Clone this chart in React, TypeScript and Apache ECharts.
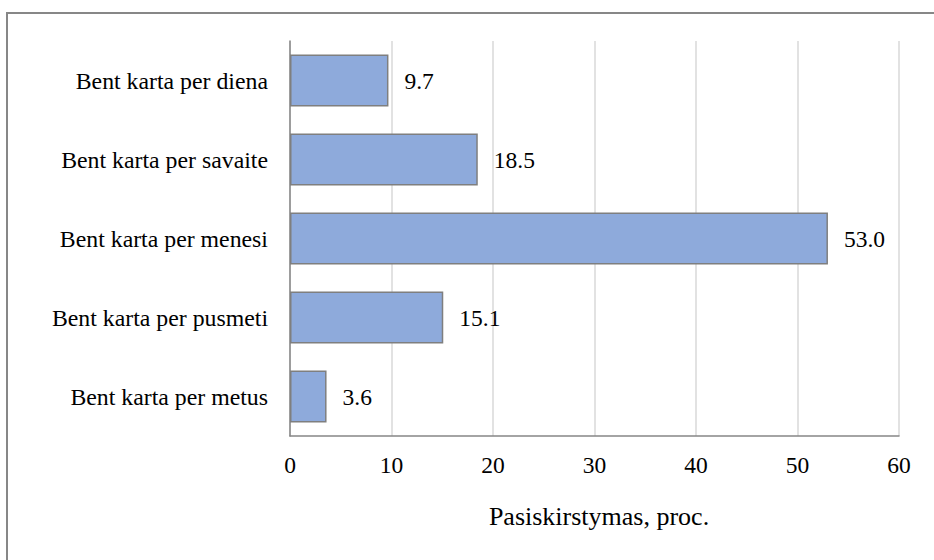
import React, { useEffect, useRef } from "react";
import * as echarts from "echarts";

const categories = [
  "Bent karta per metus",
  "Bent karta per pusmeti",
  "Bent karta per menesi",
  "Bent karta per savaite",
  "Bent karta per diena",
];
const values = [3.6, 15.1, 53.0, 18.5, 9.7];
const xAxisTitle = "Pasiskirstymas, proc.";
const xMin = 0;
const xMax = 60;
const xStep = 10;

const FONT = "Liberation Serif";

export default function App() {
  const ref = useRef<HTMLDivElement>(null);
  useEffect(() => {
    if (!ref.current) return;
    const chart = echarts.init(ref.current, undefined, { renderer: "svg" });
    chart.setOption({
      animation: false,
      backgroundColor: "#ffffff",
      textStyle: { fontFamily: FONT },
      grid: { left: 290, right: 35, top: 41, bottom: 124, containLabel: false },
      graphic: [
        {
          type: "rect",
          shape: { x: 7, y: 13, width: 1000, height: 1000 },
          style: { fill: "none", stroke: "#878787", lineWidth: 2 },
          silent: true,
        },
      ],
      xAxis: {
        type: "value",
        min: xMin,
        max: xMax,
        interval: xStep,
        name: xAxisTitle,
        nameLocation: "middle",
        nameGap: 67,
        nameTextStyle: { fontFamily: FONT, fontSize: 26, color: "#000", padding: [0, 0, 0, 9] },
        axisLine: { show: true, lineStyle: { color: "#868686", width: 1.5 } },
        axisTick: { show: false },
        axisLabel: { fontFamily: FONT, fontSize: 23.5, color: "#000", margin: 17 },
        splitLine: { show: true, lineStyle: { color: "#d9d9d9", width: 1.5 } },
      },
      yAxis: {
        type: "category",
        data: categories,
        axisLine: { show: true, lineStyle: { color: "#868686", width: 1.5 } },
        axisTick: { show: false },
        axisLabel: { fontFamily: FONT, fontSize: 23.8, color: "#000", margin: 22 },
        splitLine: { show: false },
      },
      series: [
        {
          type: "bar",
          data: values,
          barWidth: "66%",
          itemStyle: { color: "#8eaadb", borderColor: "#7f7f7f", borderWidth: 1.5 },
          label: {
            show: true,
            position: "right",
            distance: 16,
            fontFamily: FONT,
            fontSize: 23.5,
            color: "#000",
            formatter: (p: any) => Number(p.value).toFixed(1),
          },
        },
      ],
    });
    return () => chart.dispose();
  }, []);
  return (
    <div
      ref={ref}
      style={{ position: "fixed", left: 0, top: 0, width: 934, height: 560 }}
    />
  );
}
